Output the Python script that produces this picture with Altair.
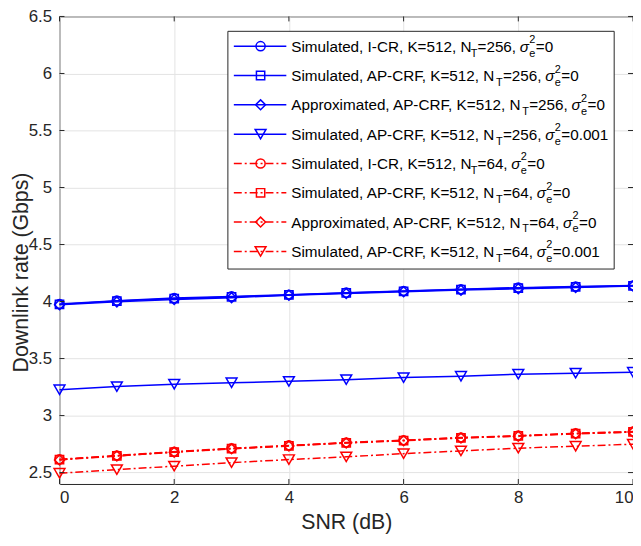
import altair as alt
import pandas as pd

# ---------------- data ----------------
snr = list(range(11))
icr_256 = [3.978, 4.008, 4.030, 4.045, 4.060, 4.078, 4.092, 4.108, 4.122, 4.132, 4.141]
apcrf_256 = [3.975, 4.004, 4.025, 4.040, 4.058, 4.075, 4.090, 4.105, 4.118, 4.128, 4.138]
approx_256 = [3.972, 3.997, 4.018, 4.034, 4.056, 4.071, 4.086, 4.100, 4.112, 4.124, 4.136]
apcrf_err_256 = [3.226, 3.254, 3.275, 3.288, 3.300, 3.315, 3.333, 3.345, 3.363, 3.372, 3.380]
icr_64 = [2.616, 2.650, 2.683, 2.713, 2.738, 2.764, 2.784, 2.808, 2.824, 2.845, 2.860]
apcrf_64 = [2.613, 2.647, 2.680, 2.710, 2.735, 2.761, 2.781, 2.805, 2.821, 2.842, 2.857]
approx_64 = [2.611, 2.645, 2.678, 2.708, 2.733, 2.759, 2.779, 2.803, 2.819, 2.840, 2.855]
apcrf_err_64 = [2.494, 2.526, 2.556, 2.587, 2.614, 2.638, 2.666, 2.690, 2.714, 2.731, 2.749]

methods = ["Simulated", "Simulated", "Approximated", "Simulated"] * 2
schemes = ["I-CR", "AP-CRF", "AP-CRF", "AP-CRF"] * 2
nts = ["256"] * 4 + ["64"] * 4
sigmas = ["0", "0", "0", "0.001"] * 2
shapes = ["circle", "square", "diamond", "triangle-down"] * 2
colors = ["#0000ff"] * 4 + ["#ff0000"] * 4
values = [icr_256, apcrf_256, approx_256, apcrf_err_256,
          icr_64, apcrf_64, approx_64, apcrf_err_64]

x_ticks = [0, 2, 4, 6, 8, 10]
y_ticks = [2.5, 3, 3.5, 4, 4.5, 5, 5.5, 6, 6.5]

# ---------------- layout ----------------
W, H = 579, 472
FONT = "Liberation Sans"
AXC = "#262626"
DASH = [8, 3, 2, 3]
MSIZE = {"circle": 85, "square": 70, "diamond": 100, "triangle-down": 120}

rows = []
for i, vals in enumerate(values):
    for s, v in zip(snr, vals):
        rows.append({"snr": s, "rate": v, "series": i, "c": colors[i],
                     "shape": shapes[i], "sz": MSIZE[shapes[i]],
                     "grp": "blue" if i < 4 else "red"})
df = pd.DataFrame(rows)

xs = alt.Scale(domain=[0, 10], nice=False, zero=False)
ys = alt.Scale(domain=[2.4, 6.5], nice=False, zero=False)
X = alt.X("snr:Q", scale=xs, title="SNR (dB)",
          axis=alt.Axis(values=x_ticks, format="d"))
Y = alt.Y("rate:Q", scale=ys, title="Downlink rate (Gbps)",
          axis=alt.Axis(values=y_ticks, format="~g", titleX=-27, titleY=H / 2 + 22))

base = alt.Chart(df)
lines_blue = base.transform_filter("datum.grp == 'blue'").mark_line(
    strokeWidth=1.5, color="#0000ff").encode(x=X, y=Y, detail="series:N")
lines_red = base.transform_filter("datum.grp == 'red'").mark_line(
    strokeWidth=1.5, color="#ff0000", strokeDash=DASH).encode(x=X, y=Y, detail="series:N")


def pts(grp):
    return base.transform_filter(f"datum.grp == '{grp}'").mark_point(
        filled=False, strokeWidth=1.5, opacity=1).encode(
        x=X, y=Y, color=alt.Color("c:N", scale=None),
        shape=alt.Shape("shape:N", scale=None),
        size=alt.Size("sz:Q", scale=None))


pts_blue = pts("blue")
pts_red = pts("red")

# inward ticks on all four sides (MATLAB box style)
TL = 5
xt = alt.Chart(pd.DataFrame({"snr": x_ticks}))
yt = alt.Chart(pd.DataFrame({"rate": y_ticks}))
tick_b = xt.mark_rule(color=AXC).encode(x=X, y=alt.value(H), y2=alt.value(H - TL))
tick_t = xt.mark_rule(color=AXC).encode(x=X, y=alt.value(0), y2=alt.value(TL))
tick_l = yt.mark_rule(color=AXC).encode(y=Y, x=alt.value(0), x2=alt.value(TL))
tick_r = yt.mark_rule(color=AXC).encode(y=Y, x=alt.value(W), x2=alt.value(W - TL))

# ---------------- legend ----------------
AWID = {' ': 278, ',': 278, '-': 333, '.': 278, '=': 584,
        'A': 667, 'C': 722, 'F': 611, 'I': 278, 'K': 667, 'N': 722, 'P': 667,
        'R': 722, 'S': 667, 'T': 611, 'a': 556, 'd': 556, 'e': 556, 'i': 222,
        'l': 222, 'm': 833, 'o': 556, 'p': 556, 'r': 333, 't': 278, 'u': 556,
        'x': 500, 'σ': 600}


def tw(s, fs):
    return sum(AWID.get(ch, 556) for ch in s) / 1000.0 * fs


FS, FS2 = 15.4, 11
LX0, LX1, LY0, LY1 = 170, 560, 15, 255
ROW0, ROWD = 30, 29.6
SX0, SX1, SXM, TX0 = 176, 229, 203, 234

main_t, small_t, ital_t, samples = [], [], [], []
for i in range(8):
    yc = ROW0 + i * ROWD
    bl = yc + 5.5
    x = TX0
    p1 = f"{methods[i]}, {schemes[i]}, K=512, N"
    main_t.append({"x": x, "y": bl, "t": p1})
    x += tw(p1, FS) - 0.8
    small_t.append({"x": x, "y": bl + 5, "t": "T"})
    x += tw("T", FS2) + 0.2
    p2 = f"={nts[i]}, "
    main_t.append({"x": x, "y": bl, "t": p2})
    x += tw(p2, FS) - 0.5
    ital_t.append({"x": x, "y": bl, "t": "σ"})
    x += tw("σ", FS) + 0.3
    small_t.append({"x": x, "y": bl - 8.5, "t": "2"})
    small_t.append({"x": x, "y": bl + 5, "t": "e"})
    x += tw("e", FS2) + 0.5
    main_t.append({"x": x, "y": bl, "t": f"={sigmas[i]}"})
    samples.append({"x0": SX0, "x1": SX1, "xm": SXM, "y": yc, "c": colors[i],
                    "shape": shapes[i], "sz": MSIZE[shapes[i]],
                    "grp": "blue" if i < 4 else "red"})

sdf = pd.DataFrame(samples)
LXs = alt.X("x0:Q", scale=None)
LX2 = alt.X2("x1:Q")
LYs = alt.Y("y:Q", scale=None)

leg_box = alt.Chart(pd.DataFrame({"a": [0]})).mark_rect(
    fill="white", stroke=AXC, strokeWidth=1).encode(
    x=alt.value(LX0), x2=alt.value(LX1), y=alt.value(LY0), y2=alt.value(LY1))
leg_lb = alt.Chart(sdf).transform_filter("datum.grp == 'blue'").mark_rule(
    color="#0000ff", strokeWidth=1.5).encode(x=LXs, x2=LX2, y=LYs)
leg_lr = alt.Chart(sdf).transform_filter("datum.grp == 'red'").mark_rule(
    color="#ff0000", strokeWidth=1.5, strokeDash=DASH).encode(x=LXs, x2=LX2, y=LYs)
leg_pt = alt.Chart(sdf).mark_point(filled=False, strokeWidth=1.5, opacity=1).encode(
    x=alt.X("xm:Q", scale=None), y=LYs,
    color=alt.Color("c:N", scale=None), shape=alt.Shape("shape:N", scale=None),
    size=alt.Size("sz:Q", scale=None))


def txt(rows_, fs, style="normal"):
    return alt.Chart(pd.DataFrame(rows_)).mark_text(
        align="left", baseline="alphabetic", font=FONT, fontSize=fs,
        fontStyle=style, color="#000000").encode(
        x=alt.X("x:Q", scale=None), y=alt.Y("y:Q", scale=None), text="t:N")


leg_main = txt(main_t, FS)
leg_small = txt(small_t, FS2)
leg_ital = txt(ital_t, FS, "italic")

chart = alt.layer(
    lines_blue, pts_blue, lines_red, pts_red,
    tick_b, tick_t, tick_l, tick_r,
    leg_box, leg_lb, leg_lr, leg_pt, leg_main, leg_small, leg_ital
).properties(
    width=W, height=H,
    autosize=alt.AutoSizeParams(type="none"),
    padding={"left": 52, "top": 6, "right": 0, "bottom": 52},
).configure_view(
    stroke=AXC, strokeWidth=1
).configure_axis(
    domain=False, ticks=False, tickSize=0,
    grid=True, gridColor="#e3e3e3", gridWidth=1,
    labelFont=FONT, labelFontSize=17, labelColor=AXC,
    titleFont=FONT, titleFontSize=21.5, titleFontWeight="normal", titleColor=AXC,
).configure_axisX(
    labelPadding=6, titlePadding=6
).configure_axisY(
    labelPadding=8
)

chart.save("out.html", embed_options={"renderer": "svg", "actions": False})
